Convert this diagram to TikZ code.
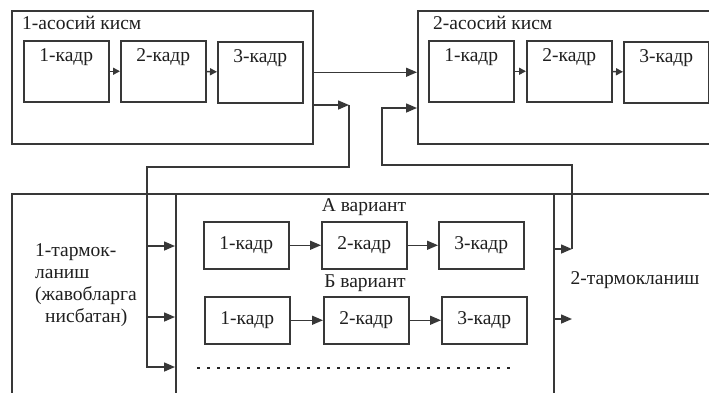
\documentclass[tikz,border=0pt]{standalone}
\usepackage{fontspec}
\setmainfont{Liberation Serif}
\usetikzlibrary{arrows.meta}
\begin{document}
\begin{tikzpicture}[x=1pt,y=-1pt,
 ln/.style={line width=1.5pt, draw=black!78},
 arr/.style={ln,-{Triangle[length=11pt,width=9pt]}},
 sarr/.style={ln,-{Triangle[length=7pt,width=7pt]}},
 frame/.style={ln, rectangle, inner sep=0pt},
 topkadr/.style={frame, anchor=north west, minimum width=85pt, text height=21pt, text depth=40pt},
 kadr/.style={frame, anchor=north west, minimum width=85pt, minimum height=47pt},
 every node/.style={font=\fontsize{19.5}{22}\selectfont, text=black!88}
]
\useasboundingbox (0,0) rectangle (709,392);
\fill[white] (0,0) rectangle (709,392);
\clip (0,0) rectangle (709,392);

% main parts
\node[frame, anchor=north west, minimum width=301pt, minimum height=133pt] (m1) at (11,10) {};
\node[frame, anchor=north west, minimum width=330pt, minimum height=133pt] (m2) at (417,10) {};
\node[anchor=west, inner sep=0pt] (t1) at (22,23) {1-асосий кисм};
\node[anchor=west, inner sep=0pt] (t2) at (433,23) {2-асосий кисм};

\node[topkadr] (a1) at (23,40) {1-кадр};
\node[topkadr] (a2) at (120,40) {2-кадр};
\node[topkadr] (a3) at (217,41) {3-кадр};
\node[topkadr] (b1) at (428,40) {1-кадр};
\node[topkadr] (b2) at (526,40) {2-кадр};
\node[topkadr] (b3) at (623,41) {3-кадр};
\draw[sarr] (a1) -- (a2);
\draw[sarr] (a2) -- (a3);
\draw[sarr] (b1) -- (b2);
\draw[sarr] (b2) -- (b3);

% branching part
\node[frame, anchor=north west, minimum width=800pt, minimum height=300pt] (br) at (11,193) {};
\node[frame, anchor=north west, minimum width=378pt, minimum height=300pt] (bi) at (175,193) {};

\node[align=left, inner sep=0pt] (l1) at (86,285) {1-тармок-\\ланиш\\(жавобларга\\\hspace*{10pt}нисбатан)};
\node[inner sep=0pt] (r1) at (635,280) {2-тармокланиш};

\node[inner sep=0pt] (va) at (364,207) {А вариант};
\node[inner sep=0pt] (vb) at (365,283) {Б вариант};

\node[kadr] (c1) at (203,221) {1-кадр};
\node[kadr] (c2) at (321,221) {2-кадр};
\node[kadr] (c3) at (438,221) {3-кадр};
\node[kadr] (d1) at (204,296) {1-кадр};
\node[kadr] (d2) at (323,296) {2-кадр};
\node[kadr] (d3) at (441,296) {3-кадр};
\draw[arr] (c1) -- (c2);
\draw[arr] (c2) -- (c3);
\draw[arr] (d1) -- (d2);
\draw[arr] (d2) -- (d3);

\draw[line width=2.5pt, dash pattern=on 2.5pt off 7.5pt, black!85] (197,368) -- (512,368);

% connectors
\draw[arr] (m1.east |- a3.east) -- (m2.west |- a3.east);

\coordinate (j1) at (349,105);
\coordinate (j2) at (349,167);
\coordinate (j3) at (147,167);
\coordinate (j4) at (147,367);
\coordinate (j5) at (147,246);
\coordinate (j6) at (147,317);
\draw[arr] (m1.east |- j1) -- (j1);
\draw[arr] (j1) -- (j2) -- (j3) -- (j4) -- (j4 -| bi.west);
\draw[arr] (j5) -- (j5 -| bi.west);
\draw[arr] (j6) -- (j6 -| bi.west);

\coordinate (k1) at (572,249);
\coordinate (k2) at (572,165);
\coordinate (k3) at (382,165);
\coordinate (k4) at (382,108);
\coordinate (k5) at (572,319);
\draw[arr] (bi.east |- k1) -- (k1);
\draw[arr] (k1) -- (k2) -- (k3) -- (k4) -- (k4 -| m2.west);
\draw[arr] (bi.east |- k5) -- (k5);
\end{tikzpicture}
\end{document}
